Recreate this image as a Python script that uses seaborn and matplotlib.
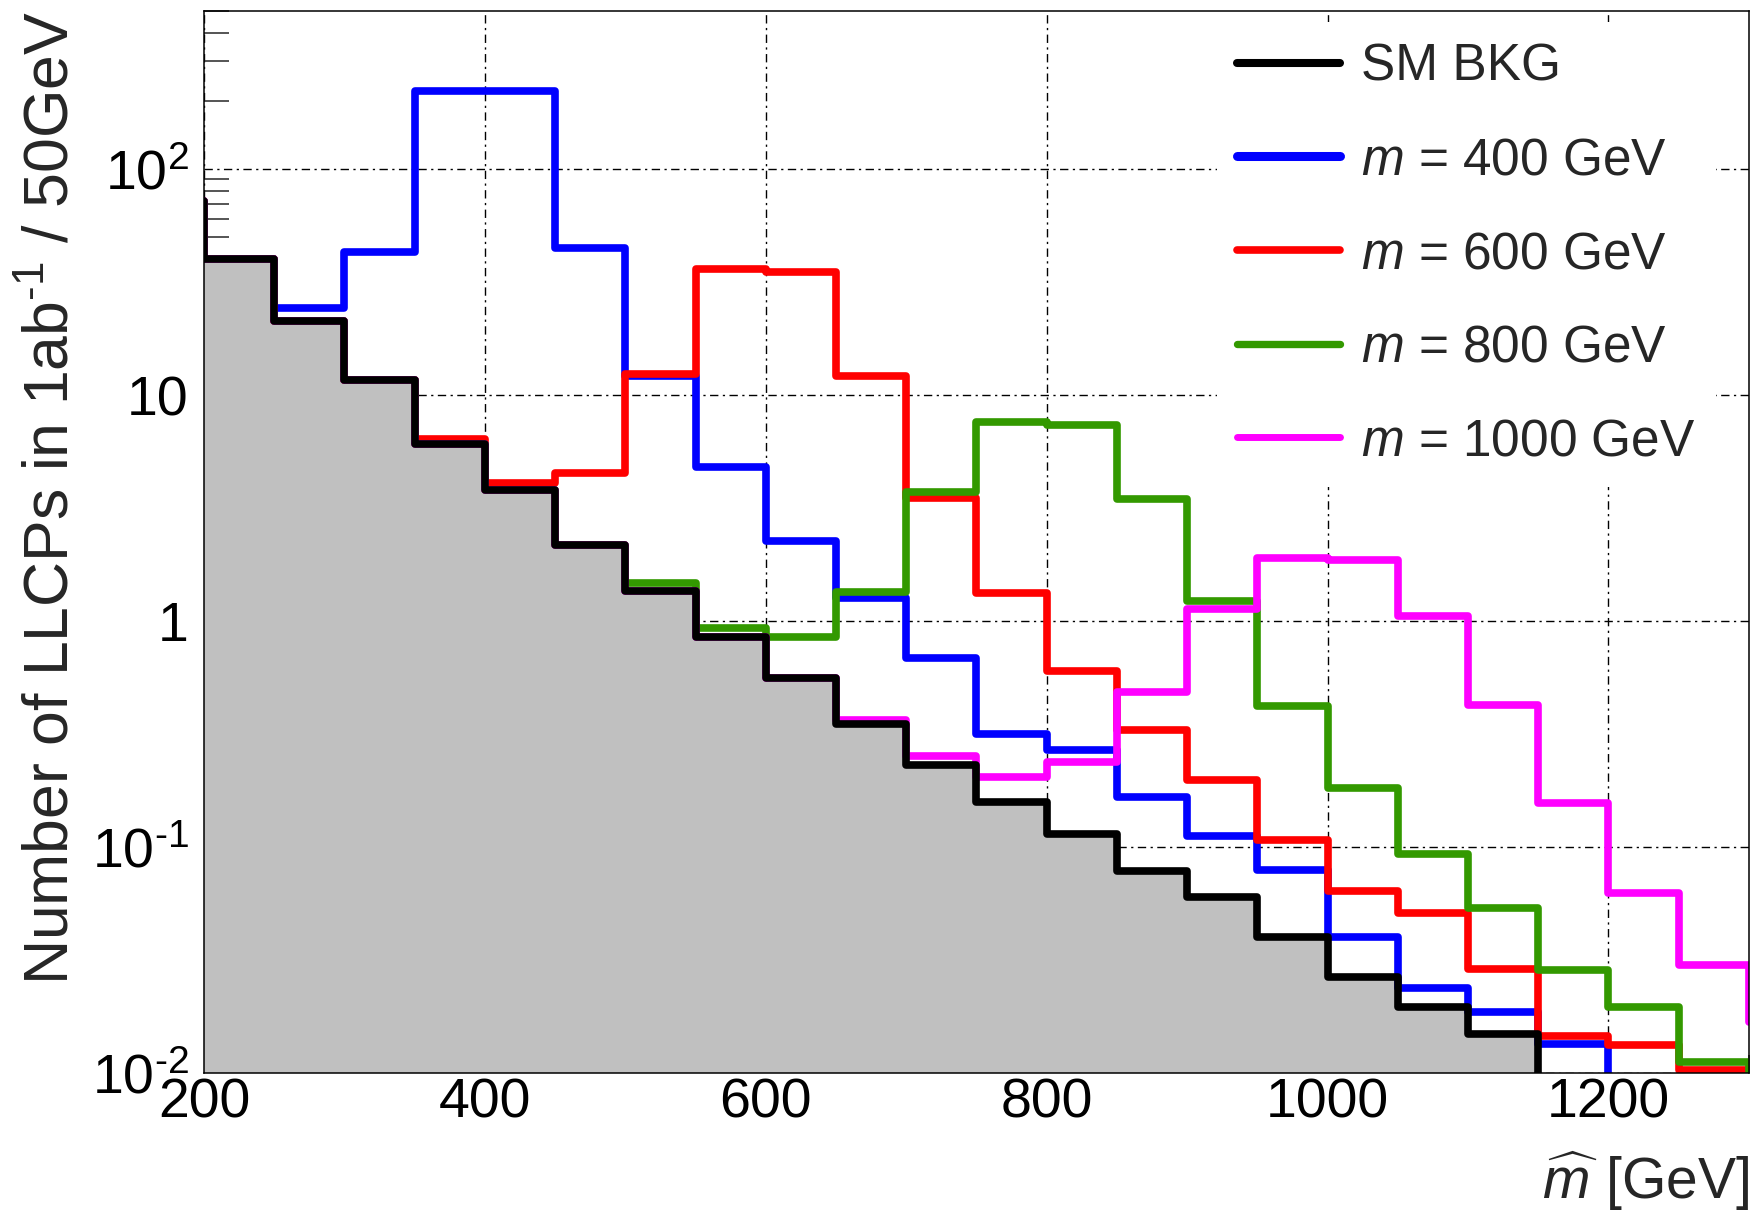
import numpy as np
import pandas as pd
import matplotlib
matplotlib.use("Agg")
import matplotlib.pyplot as plt
from matplotlib.lines import Line2D
from matplotlib.ticker import FixedLocator, FuncFormatter, MultipleLocator, LogLocator, NullFormatter
import seaborn as sns

# 50 GeV bins, first and last bin lie just outside the drawn x range
bin_edges = list(range(150, 1351, 50))

sm_bkg = [72, 40, 21.2, 11.6, 6.1, 3.8, 2.17, 1.36, 0.85, 0.56, 0.35, 0.23,
          0.159, 0.114, 0.078, 0.060, 0.040, 0.0267, 0.0197, 0.0149,
          0.005, 0.004, 0.003, 0.002]
m400 = [72, 40, 24.3, 43, 222, 222, 44.7, 12.1, 4.8, 2.27, 1.27, 0.686,
        0.317, 0.269, 0.167, 0.112, 0.079, 0.040, 0.0237, 0.0186,
        0.0135, 0.005, 0.004, 0.003]
m600 = [72, 40, 21.2, 11.6, 6.4, 4.1, 4.5, 12.4, 36, 35, 12.1, 3.52,
        1.33, 0.60, 0.331, 0.198, 0.108, 0.064, 0.051, 0.029,
        0.0146, 0.0133, 0.0103, 0.005]
m800 = [72, 40, 21.2, 11.6, 6.1, 3.8, 2.17, 1.47, 0.93, 0.85, 1.35, 3.74,
        7.6, 7.4, 3.47, 1.23, 0.419, 0.183, 0.093, 0.054,
        0.0286, 0.0197, 0.0112, 0.005]
m1000 = [72, 40, 21.2, 11.6, 6.1, 3.8, 2.17, 1.36, 0.85, 0.56, 0.364, 0.252,
         0.204, 0.239, 0.483, 1.13, 1.91, 1.87, 1.05, 0.425,
         0.156, 0.0625, 0.030, 0.0169]

signal_names = ["m = 400 GeV", "m = 600 GeV", "m = 800 GeV", "m = 1000 GeV"]
signal_labels = ["$m$ = 400 GeV", "$m$ = 600 GeV", "$m$ = 800 GeV", "$m$ = 1000 GeV"]
signal_colors = ["#0000ff", "#ff0000", "#339900", "#ff00ff"]

y_ticks = [0.01, 0.1, 1, 10, 100]
y_tick_labels = [r"$10^{\text{-}2}$", r"$10^{\text{-}1}$", "1", "10", "$10^{2}$"]

sns.set_theme(style="white")
plt.rcParams["font.family"] = ["Liberation Sans", "DejaVu Sans"]
plt.rcParams["mathtext.fontset"] = "custom"
plt.rcParams["mathtext.rm"] = "Liberation Sans"
plt.rcParams["mathtext.it"] = "Liberation Sans:italic"
plt.rcParams["mathtext.bf"] = "Liberation Sans:bold"
plt.rcParams["lines.scale_dashes"] = False

# long-form table: one row per bin and sample
centers = [lo + 25 for lo in bin_edges[:-1]]
df = pd.concat([
    pd.DataFrame({"mass": centers, "count": vals, "sample": name})
    for name, vals in zip(["SM BKG"] + signal_names, [sm_bkg, m400, m600, m800, m1000])
], ignore_index=True)

fig = plt.figure(figsize=(17.54, 12.18), dpi=100)
rect = [0.1163, 0.1190, 0.8808, 0.8719]
ax_bg = fig.add_axes(rect, zorder=0)
ax = fig.add_axes(rect, sharex=ax_bg, sharey=ax_bg, zorder=1)
ax.patch.set_alpha(0)

bkg_df = df[df["sample"] == "SM BKG"]
sns.histplot(data=bkg_df, x="mass", weights="count", bins=bin_edges, element="step",
             fill=True, color="#c0c0c0", alpha=1, linewidth=0, ax=ax, zorder=1)
for i, (name, col) in enumerate(zip(signal_names, signal_colors)):
    sns.histplot(data=df[df["sample"] == name], x="mass", weights="count", bins=bin_edges,
                 element="step", fill=False, color=col, linewidth=5.5, ax=ax, zorder=2 + 0.1 * i)
sns.histplot(data=bkg_df, x="mass", weights="count", bins=bin_edges, element="step",
             fill=False, color="black", linewidth=5.5, ax=ax, zorder=3)

ax.set_yscale("log")
ax.set_xlim(200, 1300)
ax.set_ylim(0.01, 500)

ax.xaxis.set_major_locator(MultipleLocator(200))
ax.xaxis.set_minor_locator(MultipleLocator(50))
ax.yaxis.set_major_locator(FixedLocator(y_ticks))
tick_text = dict(zip(y_ticks, y_tick_labels))
ax.yaxis.set_major_formatter(FuncFormatter(lambda v, p: tick_text.get(v, "")))
ax.yaxis.set_minor_locator(LogLocator(base=10, subs=range(2, 10)))
ax.yaxis.set_minor_formatter(NullFormatter())

# grid on the background axes so the grey fill hides it
ax_bg.grid(True, which="major", color="black", linewidth=1.0,
           linestyle=(0, (6, 3.2, 1.6, 3.2)))
ax_bg.grid(False, which="minor")
ax_bg.tick_params(which="both", length=0, labelbottom=False, labelleft=False)
for s in ax_bg.spines.values():
    s.set_visible(False)
ax_bg.set_facecolor("white")

ax.grid(False)
ax.tick_params(axis="x", which="major", direction="in", length=23.5, width=1.1,
               labelsize=40, pad=3, colors="black", top=False)
ax.tick_params(axis="x", which="minor", direction="in", length=12.7, width=1.1,
               top=False, bottom=True)
ax.tick_params(axis="y", which="major", direction="in", length=34.5, width=1.1,
               labelsize=40, pad=11, colors="black", right=False)
ax.tick_params(axis="y", which="minor", direction="in", length=18, width=1.1,
               left=True, right=False)
for s in ax.spines.values():
    s.set_visible(True)
    s.set_color("black")
    s.set_linewidth(1.1)

ax.set_xlabel(r"$\widehat{m}$ [GeV]", fontsize=41, loc="right")
ax.xaxis.set_label_coords(1.0, -0.072)
ax.set_ylabel(r"Number of LLCPs in 1ab$^{\text{-}1}$ / 50GeV", fontsize=45, loc="top")
ax.yaxis.set_label_coords(-0.0796, 1.0)

handles = [Line2D([], [], color="black", linewidth=5.8)]
handles += [Line2D([], [], color=c, linewidth=w) for c, w in zip(signal_colors, [6.5, 5.5, 5.3, 5.0])]
ax.legend(handles, ["SM BKG"] + signal_labels, loc="upper left",
          bbox_to_anchor=(0.6938, 0.9819), bbox_transform=fig.transFigure,
          frameon=True, facecolor="white", edgecolor="none", framealpha=1,
          fancybox=False, fontsize=37, handlelength=2.0, handletextpad=0.41,
          labelspacing=0.87, borderpad=0.4, borderaxespad=0)

fig.savefig("out.png", dpi=100)
